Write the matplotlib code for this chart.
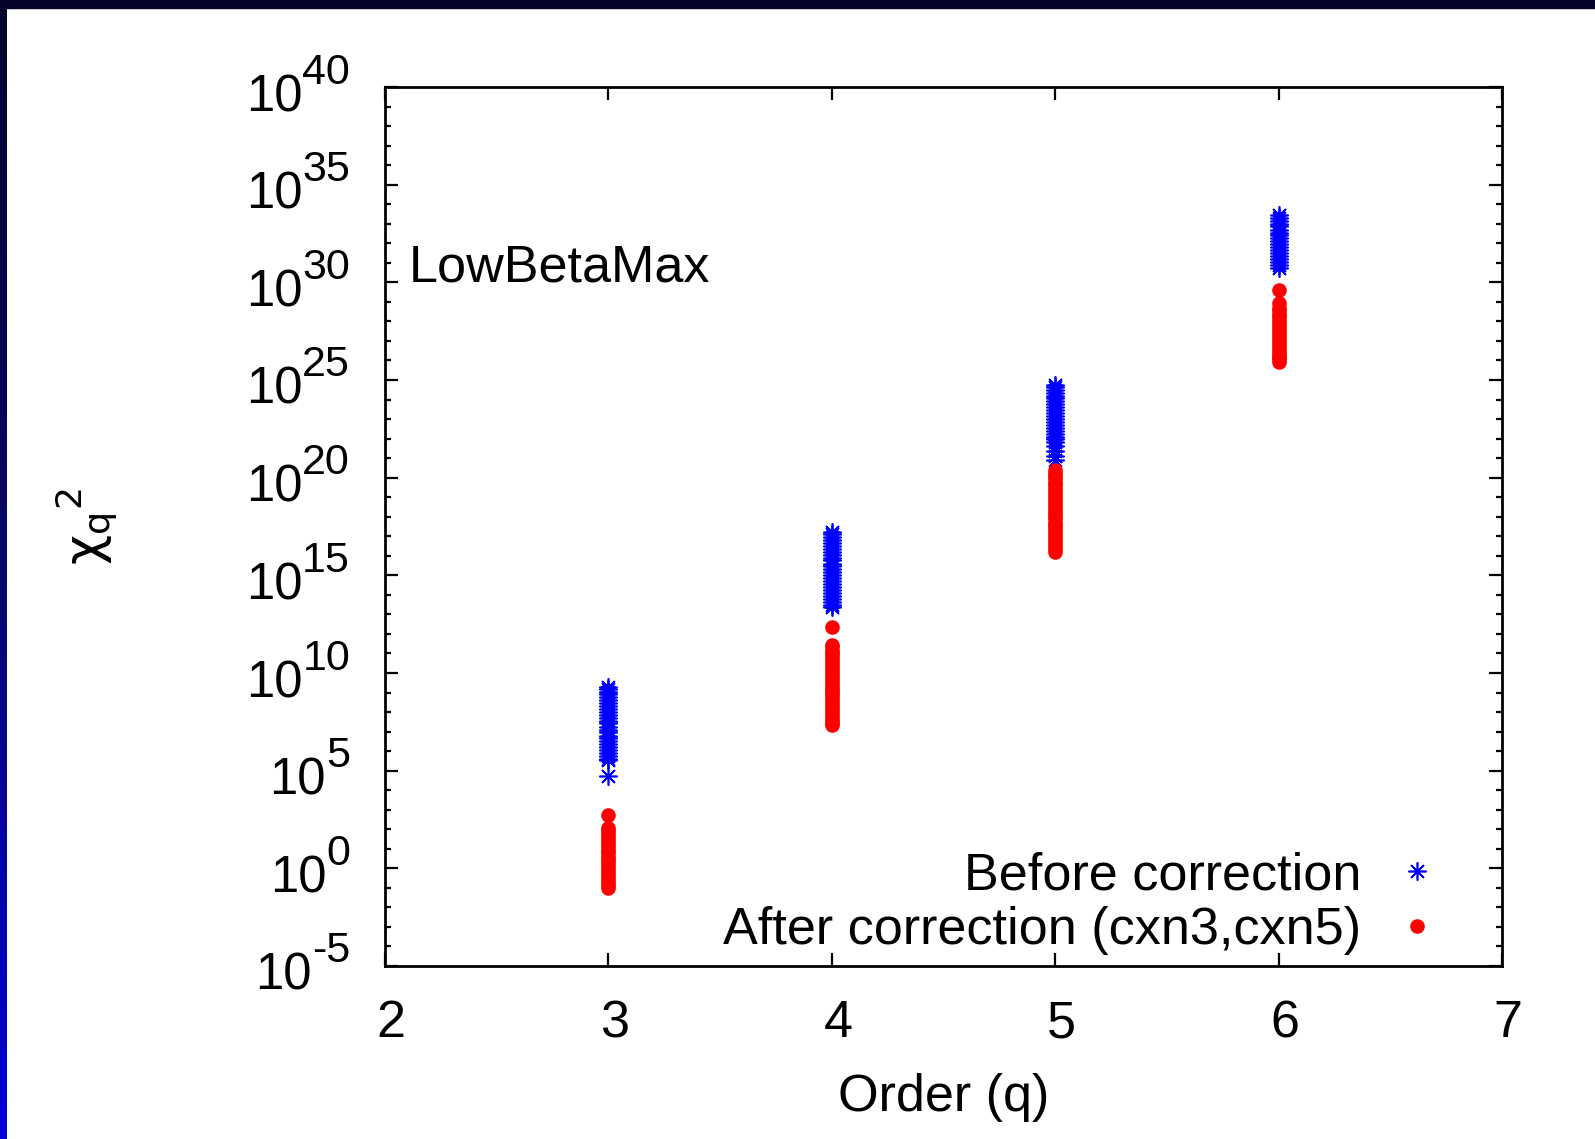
import numpy as np
import matplotlib
matplotlib.use('Agg')
import matplotlib.pyplot as plt
from matplotlib.transforms import blended_transform_factory, offset_copy, ScaledTranslation
from matplotlib.colors import LinearSegmentedColormap
from matplotlib.patches import Rectangle

plt.rcParams['font.family'] = ['Liberation Sans', 'DejaVu Sans']
plt.rcParams['mathtext.fontset'] = 'custom'
plt.rcParams['mathtext.rm'] = 'Liberation Sans'
plt.rcParams['mathtext.it'] = 'Liberation Sans:italic'

# ---- data (log10 of chi^2) ----
orders = [3, 4, 5, 6]
before_q3 = [9.30, 9.18, 9.05, 8.92, 8.76, 8.61, 8.47, 8.30, 8.16, 8.01, 7.85, 7.71,
             7.55, 7.42, 7.26, 7.10, 6.96, 6.80, 6.66, 6.50, 6.36, 6.20, 6.06, 5.91,
             5.76, 5.62, 5.55, 4.73]
after_q3 = [2.73, 2.07, 1.94, 1.80, 1.66, 1.50, 1.36, 1.21, 1.05, 0.91, 0.76, 0.60,
            0.46, 0.31, 0.15, 0.01, -0.15, -0.30, -0.44, -0.60, -0.74, -0.88, -1.00]
before_q4 = [17.22, 17.10, 16.96, 16.80, 16.66, 16.51, 16.35, 16.21, 16.05, 15.91,
             15.76, 15.60, 15.46, 15.31, 15.15, 15.01, 14.86, 14.70, 14.55, 14.41,
             14.25, 14.11, 13.95, 13.81, 13.66, 13.50, 13.38]
after_q4 = [12.36, 11.44, 11.31, 11.15, 11.01, 10.86, 10.70, 10.55, 10.41, 10.25,
            10.11, 9.95, 9.80, 9.66, 9.50, 9.36, 9.20, 9.05, 8.91, 8.75, 8.61, 8.45,
            8.30, 8.16, 8.00, 7.86, 7.70, 7.56, 7.45, 7.34]
before_q5 = [24.75, 24.62, 24.48, 24.35, 24.20, 24.06, 23.90, 23.76, 23.61, 23.45,
             23.31, 23.15, 23.01, 22.86, 22.70, 22.56, 22.40, 22.26, 22.10, 21.96,
             21.85, 21.60, 21.35, 21.10, 20.90]
after_q5 = [20.40, 20.26, 20.10, 19.96, 19.80, 19.66, 19.50, 19.36, 19.21, 19.05,
            18.91, 18.75, 18.61, 18.45, 18.30, 18.16, 18.00, 17.86, 17.70, 17.56,
            17.40, 17.26, 17.10, 16.96, 16.80, 16.66, 16.50, 16.35, 16.20]
before_q6 = [33.45, 33.30, 33.16, 33.00, 32.86, 32.70, 32.55, 32.41, 32.25, 32.10,
             31.96, 31.80, 31.66, 31.50, 31.35, 31.21, 31.05, 30.90, 30.74]
after_q6 = [29.61, 28.95, 28.70, 28.56, 28.40, 28.26, 28.10, 27.96, 27.80, 27.65,
            27.51, 27.35, 27.20, 27.06, 26.90, 26.75, 26.61, 26.45, 26.30, 26.16,
            26.05, 25.93]
before_series = [before_q3, before_q4, before_q5, before_q6]
after_series = [after_q3, after_q4, after_q5, after_q6]

x_ticks = [2, 3, 4, 5, 6, 7]
y_major_exp = [-5, 0, 5, 10, 15, 20, 25, 30, 35, 40]
y_minor_exp = list(range(-5, 41))
label_before = 'Before correction'
label_after = 'After correction (cxn3,cxn5)'
annot = 'LowBetaMax'

FS = 37.5
W, H = 1595, 1139
fig = plt.figure(figsize=(W / 100, H / 100), dpi=100)
fig.patch.set_facecolor('white')

# slide background strips
grad_ax = fig.add_axes([0, 0, 7 / W, 1])
cmap = LinearSegmentedColormap.from_list('bg', [(0.02, 0.02, 0.17), (0.03, 0.03, 0.42), (0.0, 0.0, 0.86)])
grad_ax.imshow(np.linspace(0, 1, 256).reshape(-1, 1), aspect='auto', cmap=cmap)
grad_ax.axis('off')
fig.add_artist(Rectangle((0, 1 - 8 / H), 1, 8 / H, transform=fig.transFigure,
                         color=(0.02, 0.02, 0.17), zorder=5))

ax = fig.add_axes([385 / W, 1 - 966 / H, (1502 - 385) / W, (966 - 87) / H])
ax.set_yscale('log')

h_before = None
h_after = None
for q, vals in zip(orders, before_series):
    v = 10.0 ** np.array(vals)
    h_before, = ax.plot(np.full(len(v), q), v, linestyle='none', marker=(8, 2, 0),
                        markersize=13, markeredgewidth=1.2, color='#0000ff',
                        label=label_before)
for q, vals in zip(orders, after_series):
    v = 10.0 ** np.array(vals)
    h_after, = ax.plot(np.full(len(v), q), v, linestyle='none', marker='o',
                       markersize=10.5, markeredgewidth=0, color='#ff0000',
                       label=label_after)

ax.set_xlim(2, 7)
ax.set_ylim(10.0 ** -5, 10.0 ** 40)
ax.set_xticks(x_ticks)
ax.set_yticks(10.0 ** np.array(y_major_exp))
ax.set_yticks(10.0 ** np.array(y_minor_exp), minor=True)
ax.set_yticklabels([])
ax.set_yticklabels([], minor=True)
ax.xaxis.set_minor_locator(matplotlib.ticker.NullLocator())

for s in ax.spines.values():
    s.set_linewidth(2.0)
ax.tick_params(which='both', direction='in', top=True, right=True, width=1.6)
ax.tick_params(which='major', length=9.5)
ax.tick_params(which='minor', length=4.5)
ax.tick_params(axis='x', labelsize=FS, pad=24)
for lab in ax.get_xticklabels():
    lab.set_transform(lab.get_transform() + ScaledTranslation(6 / 100, 0, fig.dpi_scale_trans))

# gnuplot-style y tick labels: 10 with a large raised exponent
renderer = fig.canvas.get_renderer()
ytrans = blended_transform_factory(ax.transAxes, ax.transData)
for e in y_major_exp:
    tr_e = offset_copy(ytrans, fig=fig, x=-35, y=3.5, units='dots')
    t_e = ax.text(0, 10.0 ** e, str(e), transform=tr_e, ha='right', va='baseline',
                  fontsize=31, clip_on=False)
    w = t_e.get_window_extent(renderer).width
    tr_b = offset_copy(ytrans, fig=fig, x=-35 - w, y=-24, units='dots')
    ax.text(0, 10.0 ** e, '10', transform=tr_b, ha='right', va='baseline',
            fontsize=36.5, clip_on=False)

ax.set_xlabel('Order (q)', fontsize=FS, va='baseline')
ax.xaxis.set_label_coords(0.5, (966 - 1111) / 879)
ax.set_ylabel(r'$\mathregular{χ_q{}^{2}}$', fontsize=FS, va='center',
              fontfamily='DejaVu Sans')
ax.yaxis.set_label_coords((86 - 385) / 1117, 0.5)

ax.text((409 - 385) / 1117, (966 - 282) / 879, annot, transform=ax.transAxes,
        fontsize=FS, ha='left', va='baseline')

ax.legend(handles=[h_before, h_after], loc='lower right', bbox_to_anchor=(0.947, 0.012),
          markerfirst=False, frameon=False, fontsize=FS, handlelength=1.0,
          handletextpad=0.56, borderaxespad=0, borderpad=0, labelspacing=0.12)

fig.savefig('out.png', dpi=100, facecolor='white')
